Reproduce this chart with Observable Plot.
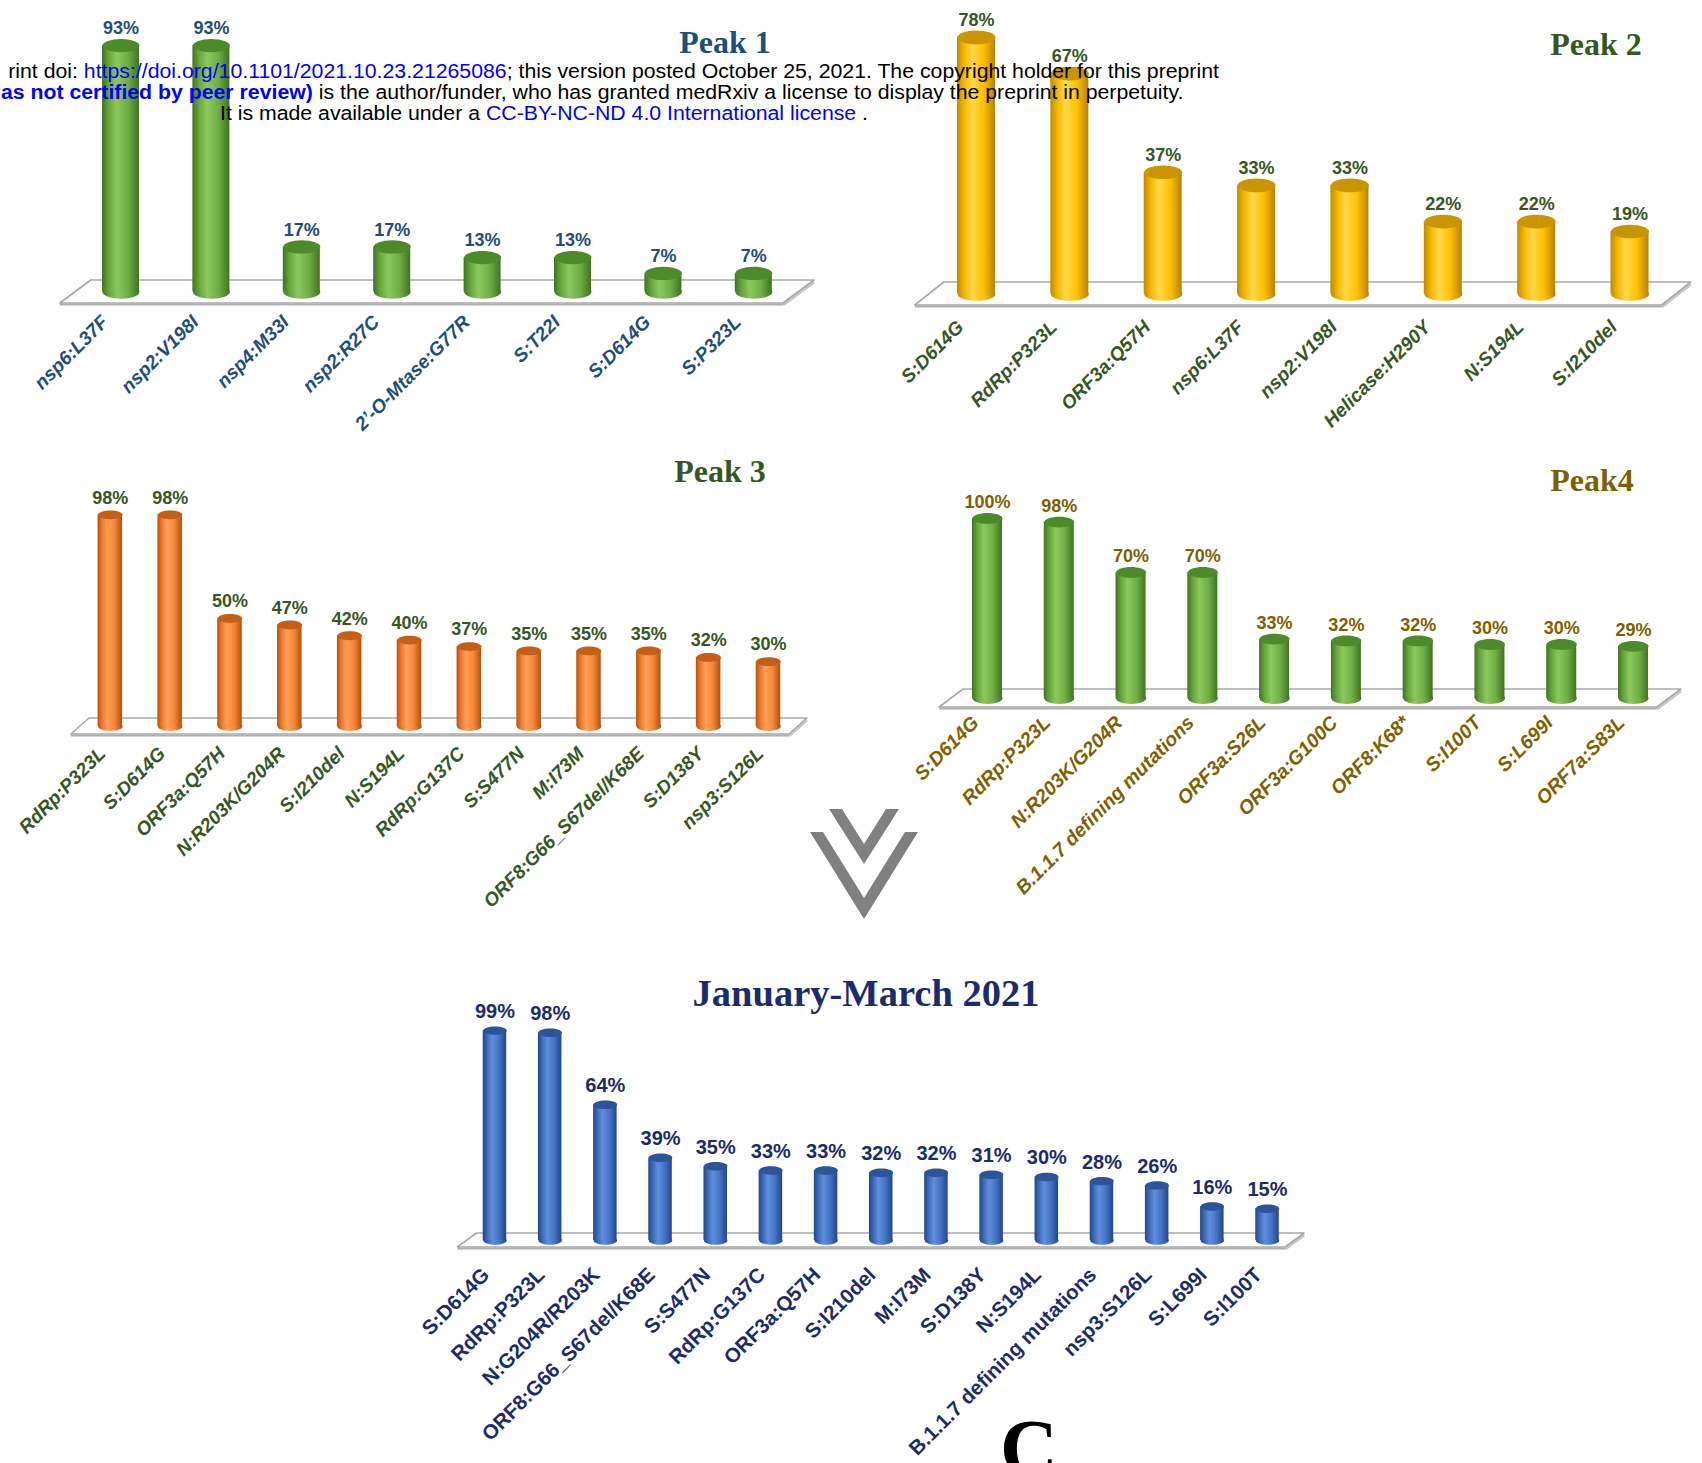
<!DOCTYPE html>
<html>
<head>
<meta charset="utf-8">
<script src="https://cdn.jsdelivr.net/npm/d3@7"></script>
<script src="https://cdn.jsdelivr.net/npm/@observablehq/plot@0.6"></script>
<style>
  html, body { margin: 0; padding: 0; background: #fff; }
  #page { position: relative; width: 1702px; height: 1463px; overflow: hidden; background: #fff; }
  #page svg.plotsvg { position: absolute; left: 0; top: 0; }
  .title { position: absolute; font-family: "Liberation Serif", "Times New Roman", serif; font-weight: bold; line-height: 1; white-space: nowrap; transform: translateX(-50%); z-index: 5; }
  .stamp { position: absolute; font-family: "Liberation Sans", Arial, sans-serif; font-size: 20px; line-height: 1; white-space: nowrap; color: #000; z-index: 10; }
  .stamp .lnk { color: #0000ff; }
  .stamp b { color: #0000ff; }
  #chev { position: absolute; left: 0; top: 0; z-index: 4; }
</style>
</head>
<body>
<svg width="0" height="0" style="position:absolute">
  <defs>
    <linearGradient id="g-green" x1="0" x2="1" y1="0" y2="0">
      <stop offset="0" stop-color="#3f7420"/>
      <stop offset="0.18" stop-color="#66a63c"/>
      <stop offset="0.4" stop-color="#8cc85e"/>
      <stop offset="0.7" stop-color="#6fae45"/>
      <stop offset="1" stop-color="#3f7420"/>
    </linearGradient>
    <linearGradient id="g-gold" x1="0" x2="1" y1="0" y2="0">
      <stop offset="0" stop-color="#c08a00"/>
      <stop offset="0.18" stop-color="#f2b600"/>
      <stop offset="0.4" stop-color="#ffd84a"/>
      <stop offset="0.7" stop-color="#ffc000"/>
      <stop offset="1" stop-color="#b88200"/>
    </linearGradient>
    <linearGradient id="g-orange" x1="0" x2="1" y1="0" y2="0">
      <stop offset="0" stop-color="#b9520c"/>
      <stop offset="0.18" stop-color="#ec7a2a"/>
      <stop offset="0.4" stop-color="#ffa05a"/>
      <stop offset="0.7" stop-color="#f58634"/>
      <stop offset="1" stop-color="#b0500c"/>
    </linearGradient>
    <linearGradient id="g-blue" x1="0" x2="1" y1="0" y2="0">
      <stop offset="0" stop-color="#23468c"/>
      <stop offset="0.18" stop-color="#3d68b8"/>
      <stop offset="0.4" stop-color="#5f8fdc"/>
      <stop offset="0.7" stop-color="#4472c4"/>
      <stop offset="1" stop-color="#22458a"/>
    </linearGradient>
  </defs>
</svg>
<div id="page"></div>
<script>
// ---------- DATA ----------
const p1Labels = ["nsp6:L37F", "nsp2:V198I", "nsp4:M33I", "nsp2:R27C", "2\u2019-O-Mtase:G77R", "S:T22I", "S:D614G", "S:P323L"];
const p1Values = [93, 93, 17, 17, 13, 13, 7, 7];

const p2Labels = ["S:D614G", "RdRp:P323L", "ORF3a:Q57H", "nsp6:L37F", "nsp2:V198I", "Helicase:H290Y", "N:S194L", "S:I210del"];
const p2Values = [78, 67, 37, 33, 33, 22, 22, 19];

const p3Labels = ["RdRp:P323L", "S:D614G", "ORF3a:Q57H", "N:R203K/G204R", "S:I210del", "N:S194L", "RdRp:G137C", "S:S477N", "M:I73M", "ORF8:G66_S67del/K68E", "S:D138Y", "nsp3:S126L"];
const p3Values = [98, 98, 50, 47, 42, 40, 37, 35, 35, 35, 32, 30];

const p4Labels = ["S:D614G", "RdRp:P323L", "N:R203K/G204R", "B.1.1.7 defining mutations", "ORF3a:S26L", "ORF3a:G100C", "ORF8:K68*", "S:I100T", "S:L699I", "ORF7a:S83L"];
const p4Values = [100, 98, 70, 70, 33, 32, 32, 30, 30, 29];

const p5Labels = ["S:D614G", "RdRp:P323L", "N:G204R/R203K", "ORF8:G66_S67del/K68E", "S:S477N", "RdRp:G137C", "ORF3a:Q57H", "S:I210del", "M:I73M", "S:D138Y", "N:S194L", "B.1.1.7 defining mutations", "nsp3:S126L", "S:L699I", "S:I100T"];
const p5Values = [99, 98, 64, 39, 35, 33, 33, 32, 32, 31, 30, 28, 26, 16, 15];

const titles = ["Peak 1", "Peak 2", "Peak 3", "Peak4", "January-March 2021"];

// ---------- LAYOUT / STYLE ----------
const W = 1702, H = 1463;
const panels = [
  {labels: p1Labels, values: p1Values, a: 75.3, b: 798.5, bw: 37, y0: 291.5, y100: 26.5, depth: 23, skew: 15.5,
   grad: "url(#g-green)", cap: "#4d8a2a", color: "#1f4e79", vfs: 18, tfs: 19, tstyle: "italic", vdy: -17, tdx: -16, tdy: 27,
   title: {x: 725, base: 53, size: 32}},
  {labels: p2Labels, values: p2Values, a: 929.3, b: 1676.2, bw: 38, y0: 293.5, y100: -35.5, depth: 23, skew: 14.5,
   grad: "url(#g-gold)", cap: "#c99500", color: "#375623", vfs: 18, tfs: 19, tstyle: "italic", vdy: -17, tdx: -16, tdy: 30,
   title: {x: 1596, base: 55, size: 32}},
  {labels: p3Labels, values: p3Values, a: 79.9, b: 797.9, bw: 24.5, y0: 726, y100: 510, depth: 16, skew: 9,
   grad: "url(#g-orange)", cap: "#c45f18", color: "#375623", vfs: 18, tfs: 19, tstyle: "italic", vdy: -17, tdx: -8, tdy: 24,
   title: {x: 720, base: 482, size: 32}},
  {labels: p4Labels, values: p4Values, a: 951.1, b: 1668.9, bw: 30, y0: 698, y100: 518, depth: 18, skew: 12,
   grad: "url(#g-green)", cap: "#4d8a2a", color: "#7f6000", vfs: 18, tfs: 19.5, tstyle: "italic", vdy: -16, tdx: -12, tdy: 21,
   title: {x: 1592, base: 491, size: 32}},
  {labels: p5Labels, values: p5Values, a: 466.9, b: 1294.6, bw: 23.5, y0: 1240, y100: 1028, depth: 14, skew: 9.5,
   grad: "url(#g-blue)", cap: "#2d5399", color: "#1c2b6e", vfs: 20, tfs: 20.5, tstyle: "normal", vdy: -19, tdx: -9, tdy: 31,
   title: {x: 866, base: 1006, size: 38.5}}
];

// ellipse symbol (flattened circle) for cylinder ends
function ellipseSymbol(k) {
  return {
    draw(ctx, size) {
      const r = Math.sqrt(size / Math.PI), ry = r * k, c = 0.5523;
      ctx.moveTo(r, 0);
      ctx.bezierCurveTo(r, ry * c, r * c, ry, 0, ry);
      ctx.bezierCurveTo(-r * c, ry, -r, ry * c, -r, 0);
      ctx.bezierCurveTo(-r, -ry * c, -r * c, -ry, 0, -ry);
      ctx.bezierCurveTo(r * c, -ry, r, -ry * c, r, 0);
      ctx.closePath();
    }
  };
}
const ell = ellipseSymbol(0.36);

// floor plate (decoration) drawn from the scales
function floorMark(cfg) {
  return (index, scales) => {
    const y0 = scales.y(0), d = cfg.depth / 2, s = cfg.skew, a = cfg.a, b = cfg.b;
    const g = d3.create("svg:g");
    g.append("path")
      .attr("d", `M${b - s},${y0 + d + 2}L${b + s},${y0 - d + 2}`)
      .attr("stroke", "#c8c8c8").attr("stroke-width", 3).attr("fill", "none");
    g.append("path")
      .attr("d", `M${a - s},${y0 + d}L${a + s},${y0 - d}L${b + s},${y0 - d}L${b - s},${y0 + d}Z`)
      .attr("fill", "#ffffff").attr("stroke", "#a9a9a9").attr("stroke-width", 1.6).attr("stroke-linejoin", "round");
    g.append("path")
      .attr("d", `M${a - s},${y0 + d + 1.5}L${b - s},${y0 + d + 1.5}`)
      .attr("stroke", "#b0b0b0").attr("stroke-width", 2).attr("fill", "none");
    return g.node();
  };
}

const page = document.getElementById("page");

panels.forEach((cfg, i) => {
  const data = cfg.labels.map((label, j) => ({label, value: cfg.values[j]}));
  const n = data.length;
  const step = (cfg.b - cfg.a) / n;
  const p = 1 - cfg.bw / step;
  const plot = Plot.plot({
    width: W, height: H, margin: 0,
    style: {background: "transparent", overflow: "visible"},
    x: {type: "band", domain: cfg.labels, range: [cfg.a, cfg.b], paddingInner: p, paddingOuter: p / 2, round: false, axis: null},
    y: {domain: [0, 100], range: [cfg.y0, cfg.y100], axis: null},
    marks: [
      floorMark(cfg),
      Plot.dot(data, {x: "label", y: 0, r: cfg.bw / 2, symbol: ell, fill: cfg.grad}),
      Plot.barY(data, {x: "label", y: "value", fill: cfg.grad}),
      Plot.dot(data, {x: "label", y: "value", r: cfg.bw / 2, symbol: ell, fill: cfg.cap}),
      Plot.text(data, {x: "label", y: "value", text: d => d.value + "%", dy: cfg.vdy, lineAnchor: "middle",
        fill: cfg.color, fontSize: cfg.vfs, fontWeight: "bold", fontFamily: "'Liberation Sans', Arial, sans-serif"}),
      Plot.text(data, {x: "label", y: 0, text: "label", rotate: -45, textAnchor: "end", lineAnchor: "middle",
        dx: cfg.tdx, dy: cfg.tdy, fill: cfg.color, fontSize: cfg.tfs, fontWeight: "bold", fontStyle: cfg.tstyle,
        fontFamily: "'Liberation Sans', Arial, sans-serif"})
    ]
  });
  plot.classList.add("plotsvg");
  page.appendChild(plot);

  const t = document.createElement("div");
  t.className = "title";
  t.textContent = titles[i];
  t.style.fontSize = cfg.title.size + "px";
  t.style.color = cfg.color;
  t.style.left = cfg.title.x + "px";
  t.style.top = (cfg.title.base - 0.8375 * cfg.title.size) + "px";
  page.appendChild(t);
});

// big panel letter
const letter = document.createElement("div");
letter.className = "title";
letter.textContent = "C";
letter.style.fontSize = "80px";
letter.style.color = "#000";
letter.style.left = "1029px";
letter.style.top = (1475 - 0.8375 * 80) + "px";
page.appendChild(letter);

// chevron decoration
const chev = document.createElementNS("http://www.w3.org/2000/svg", "svg");
chev.setAttribute("id", "chev");
chev.setAttribute("width", W); chev.setAttribute("height", H);
chev.innerHTML = '<polygon fill="#808080" points="829,809 842,809 864,844 886,809 899,809 864,864"/>' +
                 '<polygon fill="#808080" points="810,832 823,832 864,898 905,832 918,832 864,919"/>';
page.appendChild(chev);

// preprint stamp lines
const stampLines = [
  {html: 'rint doi: <span class="lnk">https://doi.org/10.1101/2021.10.23.21265086</span>; this version posted October 25, 2021. The copyright holder for this preprint', right: 1219, center: 71},
  {html: '<b>as not certified by peer review)</b> is the author/funder, who has granted medRxiv a license to display the preprint in perpetuity.', right: 1183, center: 92},
  {html: 'It is made available under a <span class="lnk">CC-BY-NC-ND 4.0 International license</span> .', left: 220, right: 868, center: 113}
];
const els = stampLines.map(s => {
  const d = document.createElement("div");
  d.className = "stamp";
  d.innerHTML = s.html;
  d.style.top = (s.center + 0.36 * 20 - 0.8465 * 20) + "px";
  page.appendChild(d);
  return d;
});
const w3 = els[2].getBoundingClientRect().width;
const sx = (stampLines[2].right - stampLines[2].left) / w3;
els.forEach((d, i) => {
  const s = stampLines[i];
  if (s.left != null) {
    d.style.left = s.left + "px";
    d.style.transformOrigin = "left center";
  } else {
    d.style.right = (W - s.right) + "px";
    d.style.transformOrigin = "right center";
  }
  d.style.transform = `scaleX(${sx})`;
});
</script>
</body>
</html>
